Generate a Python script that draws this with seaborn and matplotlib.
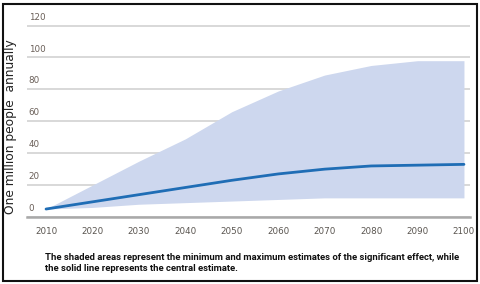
import matplotlib
matplotlib.use("Agg")
import matplotlib.pyplot as plt
import matplotlib.patches as mpatches
import seaborn as sns
import pandas as pd

# values (million people annually)
years = [2010, 2020, 2030, 2040, 2050, 2060, 2070, 2080, 2090, 2100]
central = [5, 9.5, 14, 18.5, 23, 27, 30, 32, 32.5, 33]
upper = [5, 20, 35, 49, 66, 79, 89, 95, 98, 98]
lower = [5, 6, 8, 9, 10, 11, 12, 12, 12, 12]
y_ticks = [0, 20, 40, 60, 80, 100, 120]

caption = ("The shaded areas represent the minimum and maximum estimates of the significant effect, while\n"
           "the solid line represents the central estimate.")

df = pd.DataFrame({"year": years, "central": central})

sns.set_style("white")
plt.rcParams["font.family"] = ["DejaVu Sans"]

fig = plt.figure(figsize=(4.8, 2.84), dpi=100)
ax = fig.add_axes([27 / 480, 1 - 217 / 284, 443 / 480, 193 / 284])

ax.fill_between(years, lower, upper, color="#cdd7ee", lw=0, zorder=2)
sns.lineplot(data=df, x="year", y="central", ax=ax, color="#1f6db5", lw=2, zorder=3)

ax.set_xlim(2005.9, 2101.3)
ax.set_ylim(0, 121)
ax.set_yticks(y_ticks)
ax.set_xticks(years)
ax.yaxis.grid(True, color="#d6d6d6", lw=1.3, zorder=1)
ax.xaxis.grid(False)
for s in ["left", "right", "top"]:
    ax.spines[s].set_visible(False)
ax.spines["bottom"].set_color("#a9a9a9")
ax.spines["bottom"].set_linewidth(1.8)
ax.spines["bottom"].set_zorder(4)

ax.tick_params(axis="y", left=False, labelleft=False)
ax.tick_params(axis="x", bottom=False, labelsize=6.3, labelcolor="#5a5550", pad=4)
for v in y_ticks:
    ax.text(0.004, v + 2.5, str(v), transform=ax.get_yaxis_transform(),
            ha="left", va="bottom", fontsize=6.3, color="#6a5f58")

ax.set_xlabel("")
ax.set_ylabel("One million people  annually", fontsize=8.8, color="#222222")
ax.yaxis.set_label_coords(-0.022, 0.466)

fig.text(45 / 480, 1 - 273 / 284, caption, fontsize=6.8, fontweight="bold",
         family=["Roboto", "DejaVu Sans"], color="#111111",
         ha="left", va="bottom", linespacing=1.3)

fig.patches.append(mpatches.Rectangle((3 / 480, 3 / 284), 474 / 480, 277 / 284,
                                      transform=fig.transFigure, fill=False,
                                      edgecolor="#111111", lw=1.5))

fig.savefig("out.png", dpi=100)
